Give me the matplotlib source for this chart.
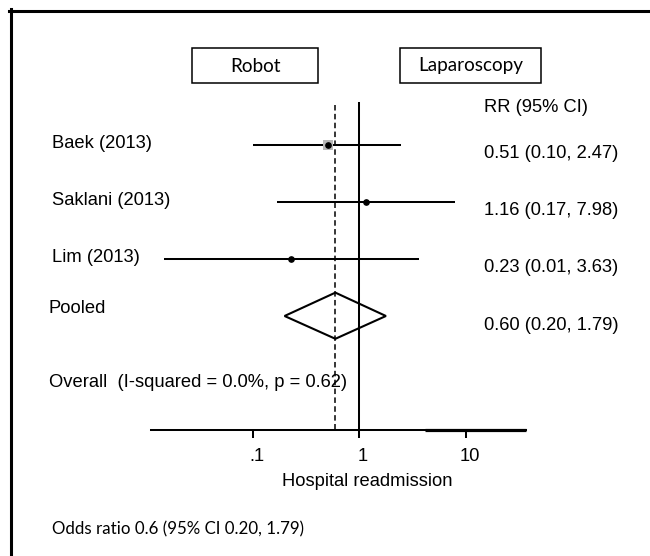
import matplotlib
matplotlib.use("Agg")
import matplotlib.pyplot as plt
import matplotlib.transforms as mtransforms
from matplotlib.patches import Rectangle, Polygon
from matplotlib.lines import Line2D

# ---------------- data ----------------
studies = ["Baek (2013)", "Saklani (2013)", "Lim (2013)"]
rr = [0.51, 1.16, 0.23]
ci_low = [0.10, 0.17, 0.0148]
ci_high = [2.47, 7.98, 3.63]
rr_labels = ["0.51 (0.10, 2.47)", "1.16 (0.17, 7.98)", "0.23 (0.01, 3.63)"]
pooled_label = "Pooled"
pooled_rr = 0.60
pooled_low = 0.20
pooled_high = 1.79
pooled_text = "0.60 (0.20, 1.79)"
overall_text = "Overall  (I-squared = 0.0%, p = 0.62)"
header_text = "RR (95% CI)"
tick_values = [0.1, 1, 10]
tick_labels = [".1", "1", "10"]
xlabel = "Hospital readmission"
left_box = "Robot"
right_box = "Laparoscopy"
footnote = "Odds ratio 0.6 (95% CI 0.20, 1.79)"

# ---------------- layout ----------------
W, H, DPI = 650, 556, 100
fig = plt.figure(figsize=(W / DPI, H / DPI), dpi=DPI)
fig.patch.set_facecolor("white")

FONT = "Liberation Sans"
BOXFONT = "Lato"
FS = 13.2

def fx(px):
    return px / W

def fy(py):
    return 1 - py / H

ax_left_px, ax_right_px = 150.7, 525.7
ax_top_px, ax_bot_px = 95, 429.7
row0_px, row_step = 145.0, 57.0
ax = fig.add_axes([fx(ax_left_px), fy(ax_bot_px),
                   (ax_right_px - ax_left_px) / W, (ax_bot_px - ax_top_px) / H])
ax.patch.set_visible(False)
ax.set_xscale("log")
decade_px, one_px = 106.5, 359.0
xmin = 10 ** ((ax_left_px - one_px) / decade_px)
xmax = 10 ** ((ax_right_px - one_px) / decade_px)
ax.set_xlim(xmin, xmax)
ybot = (ax_bot_px - row0_px) / row_step
ytop = (ax_top_px - row0_px) / row_step
ax.set_ylim(ybot, ytop)

for s in ["left", "right", "top"]:
    ax.spines[s].set_visible(False)
ax.spines["bottom"].set_linewidth(1.45)
ax.set_yticks([])
ax.set_xticks(tick_values)
ax.set_xticklabels(tick_labels, fontsize=FS, family=FONT)
ax.minorticks_off()
ax.tick_params(axis="x", which="both", direction="out", length=5.8, width=1.45,
               pad=7.5, color="black")
ax.xaxis.set_minor_locator(matplotlib.ticker.NullLocator())
offset = mtransforms.ScaledTranslation(4 / DPI, 0, fig.dpi_scale_trans)
for lab in ax.get_xticklabels():
    lab.set_transform(lab.get_transform() + offset)

# thicker right part of axis line
ax.plot([4.2, xmax], [ybot, ybot], color="black", lw=2.3, clip_on=False,
        solid_capstyle="butt")

# reference lines
ax.plot([1, 1], [-0.74, ybot], color="black", lw=1.45, clip_on=False)
ax.plot([pooled_rr, pooled_rr], [-0.70, ybot], color="black", lw=1.1,
        dashes=(3.6, 2.2), clip_on=False)

# studies
rows = list(range(len(studies)))
for i, (m, lo, hi) in enumerate(zip(rr, ci_low, ci_high)):
    ax.plot([lo, hi], [i, i], color="black", lw=1.45, solid_capstyle="butt",
            clip_on=False)
    if i == 0:
        ax.plot([m], [i], marker="s", markersize=7.8, color="#b8b8b8",
                markeredgewidth=0, zorder=3)
    ax.plot([m], [i], marker="o", markersize=3.8, color="black", zorder=4)

# pooled diamond
prow = len(studies)
diamond = Polygon([[pooled_low, prow], [pooled_rr, prow - 0.41],
                   [pooled_high, prow], [pooled_rr, prow + 0.40]],
                  closed=True, fill=False, edgecolor="black", lw=1.5,
                  joinstyle="miter", zorder=5)
ax.add_patch(diamond)

# text columns
bt = mtransforms.blended_transform_factory(fig.transFigure, ax.transData)
for i, name in enumerate(studies):
    fig.text(fx(52), i - 0.03, name, transform=bt, fontsize=FS, family=FONT,
             ha="left", va="center")
    fig.text(fx(484), i + 0.15, rr_labels[i], transform=bt, fontsize=FS,
             family=FONT, ha="left", va="center")
fig.text(fx(49), prow - 0.14, pooled_label, transform=bt, fontsize=FS,
         family=FONT, ha="left", va="center")
fig.text(fx(484), prow + 0.16, pooled_text, transform=bt, fontsize=FS,
         family=FONT, ha="left", va="center")
fig.text(fx(484), (108 - row0_px) / row_step, header_text, transform=bt,
         fontsize=FS, family=FONT, ha="left", va="center")
fig.text(fx(49), (383 - row0_px) / row_step, overall_text, transform=bt,
         fontsize=FS, family=FONT, ha="left", va="center")

fig.text(fx(367), fy(481), xlabel, fontsize=FS, family=FONT, ha="center",
         va="center")
fig.text(fx(52), fy(529), footnote, fontsize=12.2, family=BOXFONT, ha="left",
         va="center")

# header boxes
for (x0, x1, label) in [(192, 318, left_box), (400, 541, right_box)]:
    fig.patches.append(Rectangle((fx(x0), fy(83)), (x1 - x0) / W, 35 / H,
                                 transform=fig.transFigure, fill=False,
                                 edgecolor="black", lw=1.1))
    fig.text(fx((x0 + x1) / 2), fy(66), label, fontsize=13.6, family=BOXFONT,
             ha="center", va="center")

# frame (left and top edges)
fig.lines.append(Line2D([fx(10.5), fx(10.5)], [0, fy(9)], transform=fig.transFigure,
                        color="black", lw=2.2))
fig.lines.append(Line2D([fx(9), 1], [fy(10.5), fy(10.5)], transform=fig.transFigure,
                        color="black", lw=2.2))

fig.savefig("out.png", dpi=DPI, facecolor="white")
